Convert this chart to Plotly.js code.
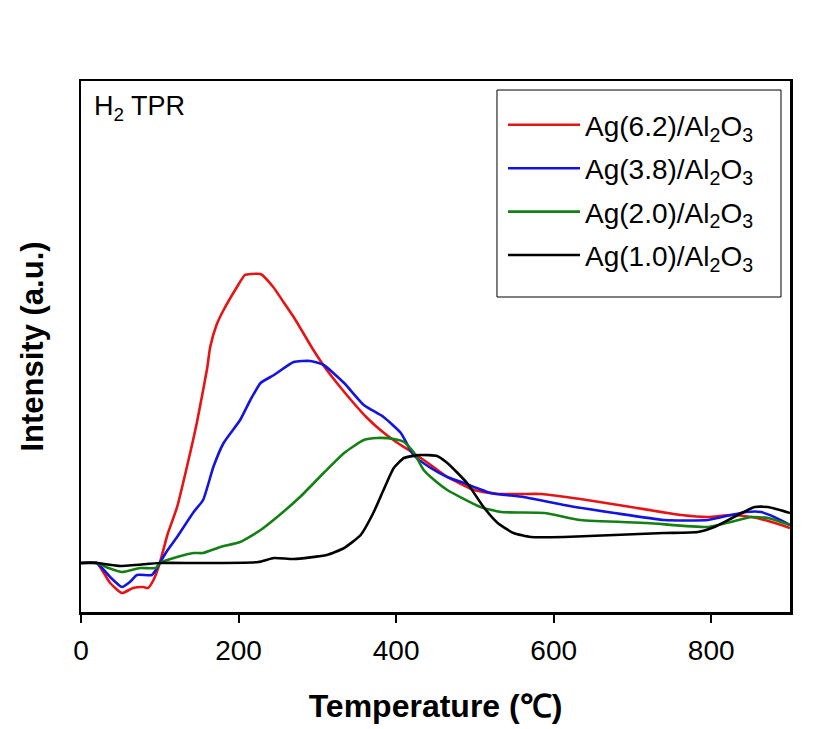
<!DOCTYPE html>
<html>
<head>
<meta charset="utf-8">
<script src="https://cdn.plot.ly/plotly-3.0.1.min.js"></script>
<style>html,body{margin:0;padding:0;background:#fff;}</style>
</head>
<body>
<div id="chart" style="width:833px;height:729px;"></div>
<script>
// Series names
const seriesNames = [
  "Ag(6.2)/Al<sub>2</sub>O<sub>3</sub>",
  "Ag(3.8)/Al<sub>2</sub>O<sub>3</sub>",
  "Ag(2.0)/Al<sub>2</sub>O<sub>3</sub>",
  "Ag(1.0)/Al<sub>2</sub>O<sub>3</sub>"
];
const seriesColors = ["rgb(230,20,20)", "rgb(20,20,225)", "rgb(20,128,20)", "rgb(0,0,0)"];

// Ag(6.2)/Al2O3
const tempRed = [0, 20, 37, 52, 66, 79, 85, 92, 100, 110, 122, 135, 147, 160, 164, 172, 181, 198, 208, 216, 228, 244, 257, 270, 295, 312, 330, 346, 362, 380, 400, 422, 444, 465, 499, 529, 560, 584, 634, 698, 762, 796, 825, 851, 868, 885, 900];
const intRed  = [49, 49, 29, 19, 24, 25, 24, 32, 49, 78, 105, 147, 189, 243, 265, 287, 302, 325, 337, 338, 338, 325, 310, 295, 262, 242, 224, 209, 195, 182, 170, 159, 147, 135, 122, 118, 118, 118, 113, 105, 97, 95, 97, 95, 92, 88, 84];

// Ag(3.8)/Al2O3
const tempBlue = [0, 20, 37, 52, 62, 71, 90, 95, 100, 110, 122, 143, 155, 168, 181, 202, 215, 228, 245, 270, 291, 308, 334, 359, 384, 406, 422, 444, 465, 486, 520, 562, 613, 677, 740, 796, 825, 845, 863, 880, 900];
const intBlue  = [49, 49, 35, 25, 30, 37, 37, 42, 49, 62, 75, 100, 112, 145, 169, 192, 212, 229, 237, 250, 251, 247, 229, 207, 195, 179, 157, 144, 135, 129, 119, 115, 107, 99, 92, 92, 97, 100, 100, 95, 87];

// Ag(2.0)/Al2O3
const tempGreen = [0, 20, 35, 52, 75, 95, 100, 122, 143, 155, 177, 202, 228, 249, 278, 308, 334, 359, 376, 397, 410, 422, 435, 444, 465, 507, 533, 588, 634, 719, 796, 825, 851, 872, 900];
const intGreen  = [49, 49, 44, 40, 44, 44, 49, 55, 59, 59, 65, 70, 82, 95, 115, 139, 159, 172, 174, 173, 170, 160, 142, 135, 122, 105, 100, 99, 92, 89, 85, 90, 95, 94, 87];

// Ag(1.0)/Al2O3
const tempBlack = [0, 20, 50, 100, 150, 225, 245, 270, 312, 334, 355, 371, 384, 397, 410, 431, 452, 465, 490, 511, 529, 549, 571, 613, 677, 740, 783, 804, 829, 855, 872, 900];
const intBlack  = [49, 49, 46, 49, 49, 50, 54, 53, 57, 64, 77, 99, 122, 144, 154, 157, 156, 149, 129, 105, 89, 79, 75, 75, 77, 79, 80, 85, 95, 105, 105, 99];

const xTickVals = [0, 200, 400, 600, 800];
const xTickText = ["0", "200", "400", "600", "800"];

const temps = [tempRed, tempBlue, tempGreen, tempBlack];
const ints = [intRed, intBlue, intGreen, intBlack];

const traces = seriesNames.map((name, i) => ({
  x: temps[i], y: ints[i], name: name, type: "scatter", mode: "lines",
  legendgroup: "g" + i,
  line: {color: seriesColors[i], width: 2.6, shape: "spline", smoothing: 0.5}
}));

const arial = "'Liberation Sans', Arial, sans-serif";
const layout = {
  width: 833, height: 729,
  margin: {l: 81, r: 43, t: 81, b: 117},
  paper_bgcolor: "#fff", plot_bgcolor: "#fff",
  showlegend: true,
  legend: {
    x: 0.5952, y: 0.964, xanchor: "left", yanchor: "top",
    borderwidth: 0, bgcolor: "rgba(0,0,0,0)",
    font: {family: arial, size: 28, color: "#000"},
    tracegroupgap: 4, itemwidth: 72
  },
  shapes: [{
    type: "rect", xref: "paper", yref: "paper", layer: "below",
    x0: 0.5867, x1: 0.9873, y0: 0.5932, y1: 0.983,
    line: {color: "#000", width: 1}, fillcolor: "#fff"
  }],
  xaxis: {
    range: [0, 900], tickvals: xTickVals, ticktext: xTickText,
    ticks: "outside", ticklen: 8, tickwidth: 2, tickcolor: "#000",
    ticklabelstandoff: 4,
    showline: true, linewidth: 2.5, linecolor: "#000", mirror: true,
    showgrid: false, zeroline: false,
    tickfont: {family: arial, size: 28, color: "#000"},
    title: {text: "<b>Temperature (℃)</b>", font: {family: arial, size: 32, color: "#000"}, standoff: 30}
  },
  yaxis: {
    range: [0, 531], showticklabels: false, ticks: "",
    showline: true, linewidth: 2.5, linecolor: "#000", mirror: true,
    showgrid: false, zeroline: false,
    title: {text: "<b>Intensity (a.u.)</b>", font: {family: arial, size: 31, color: "#000"}, standoff: 26}
  },
  annotations: [{
    text: "H<sub>2</sub> TPR", xref: "paper", yref: "paper", x: 0.016, y: 0.985,
    xanchor: "left", yanchor: "top", showarrow: false,
    font: {family: arial, size: 27, color: "#000"}
  }]
};

Plotly.newPlot("chart", traces, layout, {displayModeBar: false, staticPlot: true});
</script>
</body>
</html>
